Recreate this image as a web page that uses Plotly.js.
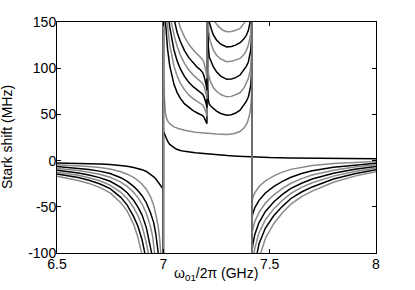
<!DOCTYPE html>
<html>
<head>
<meta charset="utf-8">
<script src="https://cdn.plot.ly/plotly-3.0.1.min.js"></script>
<style>html,body{margin:0;padding:0;background:#fff;}#chart{width:415px;height:290px;}</style>
</head>
<body>
<div id="chart"></div>
<script>
// ---- data (MHz vs GHz) ----
const OFF = 1000;                       // off-scale value used where a curve diverges
const jumpX = [7.0, 7.205, 7.417];      // resonance positions (GHz)
const xTicks = [6.5, 7, 7.5, 8];
const xTickText = ['6.5', '7', '7.5', '8'];
const yTicks = [-100, -50, 0, 50, 100, 150];
const yTickText = ['-100', '-50', '0', '50', '100', '150'];
const colors = ['#000000', '#8a8a8a'];

// curve 0 (continuous, black)
const c0_x = [6.5,6.55,6.6,6.65,6.7,6.75,6.8,6.83,6.86,6.88,6.9,6.92,6.94,6.955,6.965,6.975,6.985,6.993,7.0,7.0,7.005,7.01,7.02,7.03,7.045,7.06,7.08,7.1,7.15,7.2,7.25,7.3,7.35,7.417,7.5,7.6,7.7,7.8,7.9,8.0];
const c0_y = [-2.5,-2.7,-3.0,-3.3,-3.8,-4.3,-5.3,-6.2,-7.4,-8.5,-9.8,-11.8,-14.6,-17.5,-20,-23.5,-27,-29.5,-31,32,29,26,21,17.5,14.5,12.5,11,10,8.5,7.2,6.2,5.4,4.7,3.8,3.3,2.9,2.6,2.4,2.2,2.0];

// shared x grids
const xB = [7.0,7.005,7.01,7.015,7.02,7.03,7.04,7.05,7.065,7.08,7.1,7.12,7.14,7.16,7.175,7.185,7.192,7.198,7.202,7.205];
const xD = [7.417,7.42,7.43,7.45,7.48,7.52,7.56,7.6,7.65,7.7,7.8,7.9,8.0];

// curve 1 (gray): no jump at 7.205
const c1_xA = [6.5,6.55,6.6,6.65,6.7,6.75,6.8,6.83,6.86,6.88,6.9,6.92,6.94,6.955,6.965,6.975,6.982,6.988,6.994];
const c1_yA = [-4.5,-5.0,-5.6,-6.5,-7.6,-9.2,-12.1,-14.7,-18.2,-21.3,-25.5,-31,-39.2,-48.9,-58.6,-70,-83,-100,-150];
const c1_xBC = [7.0,7.002,7.004,7.007,7.01,7.015,7.02,7.03,7.05,7.07,7.1,7.15,7.2,7.25,7.3,7.33,7.36,7.38,7.395,7.405,7.41,7.414,7.416];
const c1_yBC = [130,90,70,57,51,46,43,40,36.5,34.8,32.8,30.8,29.6,28.8,28.3,29,31.5,35.5,41,49,56,67,85];
const c1_yD = [-44,-41,-35,-28,-22,-16.5,-12.5,-9.5,-7,-5.2,-3.2,-2,-1];

// curve 2 (black)
const c2_xA = [6.5,6.55,6.6,6.65,6.7,6.75,6.8,6.83,6.86,6.88,6.9,6.92,6.94,6.955,6.965,6.976,6.985];
const c2_yA = [-6.5,-7.3,-8.3,-9.6,-11.4,-14,-18.5,-22.4,-27.9,-32.3,-38,-45.6,-56.7,-67.4,-80,-100,-140];
const c2_yB = [209,173.8,150.1,133.2,120.6,102.8,91,82.5,73.6,67.3,61.4,57.2,54,51.5,50,48.6,46.5,44,42,40];
const c2_xC = [7.207,7.209,7.211,7.216,7.225,7.235,7.25,7.27,7.298,7.32,7.34,7.361,7.38,7.39,7.4,7.408,7.411,7.414,7.416];
const c2_yC = [110,80,66,61,58.5,56.5,53.5,51,49.2,49.6,51.5,54.6,60,64,69,77,81,92,110];
const c2_yD = [-62,-58,-51,-43,-35,-28,-22.5,-18,-14,-11,-7.2,-4.6,-2.8];

// curve 3 (gray)
const c3_xA = [6.5,6.55,6.6,6.65,6.7,6.75,6.8,6.83,6.86,6.88,6.9,6.92,6.94,6.95,6.961,6.97,6.98];
const c3_yA = [-8.5,-9.5,-10.8,-12.5,-14.8,-18,-23.3,-27.9,-34.3,-39.8,-47,-56.9,-71.7,-82.4,-100,-123,-175];
const c3_yB = [230.7,198.6,175.6,158.4,145,125.5,112.1,102.2,91.5,83.8,76.5,71.1,67.1,64,62,60.2,57.6,54.5,51,48];
const c3_xC = [7.208,7.212,7.219,7.235,7.25,7.27,7.298,7.32,7.34,7.361,7.38,7.39,7.4,7.408,7.411,7.414,7.416];
const c3_yC = [120,95,87,79,75,71.5,69,69.5,71,73.4,79,83.5,89,97,101.6,112,130];
const c3_yD = [-80,-75,-66,-56,-46,-37,-30,-24.5,-19.5,-15.5,-10.5,-7,-4.5];

// curve 4 (black)
const c4_xA = [6.5,6.55,6.6,6.65,6.7,6.75,6.8,6.83,6.86,6.88,6.9,6.92,6.935,6.945,6.955,6.965];
const c4_yA = [-10.5,-11.8,-13.4,-15.6,-18.4,-22.4,-29,-34.8,-42.9,-50,-59,-72.5,-87,-100,-120,-151];
const c4_yB = [244.7,216.1,194.7,178,164.7,144.7,130.4,119.7,107.9,99.2,90.9,84.7,80,76.3,74,71.8,68.7,65,61.1,57.3];
const c4_xC = [7.208,7.212,7.216,7.235,7.25,7.27,7.298,7.32,7.34,7.361,7.38,7.39,7.4,7.408,7.411,7.414,7.416];
const c4_yC = [150,122,112,101.6,96,91.5,88,88.3,89.8,92.6,98,102,107,115,119.7,130,150];
const c4_yD = [-98,-92,-80,-67,-55,-44.5,-36.5,-30,-24.5,-20,-13.8,-9.4,-6.3];

// curve 5 (gray)
const c5_xA = [6.5,6.55,6.6,6.65,6.7,6.75,6.8,6.83,6.86,6.88,6.9,6.92,6.93,6.95];
const c5_yA = [-12.5,-14,-15.95,-18.5,-21.8,-26.5,-34.3,-41.1,-50.7,-59.2,-71,-88.8,-101,-142];
const c5_yB = [256.5,230.9,211,195.1,182.1,162.1,147.4,136.1,123.5,114.2,104.9,98.1,92.8,88.6,86,83.5,79.9,75.6,71.1,66.7];
const c5_xC = [7.209,7.214,7.219,7.235,7.25,7.27,7.298,7.32,7.34,7.361,7.38,7.39,7.4,7.408,7.411,7.414,7.416];
const c5_yC = [160,140,130.5,119.7,114,110,107,107.4,108.7,110.6,115,119,125,134,137.7,150,170];
const c5_yD = [-125,-112,-95,-78,-64,-52,-43,-35.5,-29,-24,-16.8,-11.8,-8];

// curve 6 (black)
const c6_xA = [6.5,6.55,6.6,6.65,6.7,6.75,6.8,6.83,6.86,6.88,6.9,6.92,6.94];
const c6_yA = [-14.5,-16.2,-18.4,-21.3,-25.1,-30.4,-39.8,-48.2,-60.4,-70.8,-85.7,-108,-145];
const c6_yB = [268.1,244.9,226.3,211.1,198.4,178.5,163.6,152,138.7,128.8,118.8,111.4,105.5,100.9,98,95.3,91.1,86.2,81.1,76.2];
const c6_xC = [7.211,7.216,7.225,7.235,7.25,7.27,7.298,7.32,7.34,7.361,7.38,7.39,7.4,7.408,7.414];
const c6_yC = [165,150,143,136,130.5,126,123,123.5,125,127.6,132,135.5,141,150,165];
const c6_yD = [-160,-140,-113,-90,-73,-59.5,-49.5,-41,-34,-28.5,-20,-14.3,-10];

// curve 7 (gray)
const c7_xA = [6.5,6.55,6.6,6.65,6.7,6.75,6.8,6.83,6.86,6.88,6.9,6.92];
const c7_yA = [-17,-19,-21.5,-24.7,-29,-35,-45.5,-54.7,-68.6,-82.5,-102,-131];
const c7_yB = [273.9,253.6,236.9,223.1,211.3,192.5,178.2,166.8,153.7,143.7,133.6,125.9,119.9,115.1,112,109.1,105.3,99.8,94.2,88.8];
const c7_xC = [7.22,7.235,7.243,7.26,7.28,7.298,7.32,7.34,7.361,7.384,7.4];
const c7_yC = [175,160,150,145,141,139.5,139.8,141,143,150,160];
const c7_yD = [-200,-175,-140,-106,-84,-68,-56.5,-47,-39,-33,-23.5,-16.8,-12];

// ---- assemble traces ----
function build(xA, yA, yB, xC, yC, yD) {
  const x = [...xA, jumpX[0], jumpX[0], ...xB, jumpX[1], ...xC, jumpX[2], ...xD];
  const y = [...yA, -OFF, OFF, ...yB, OFF, ...yC, OFF, ...yD];
  return {x, y};
}
const curves = [];
curves.push({x: c0_x, y: c0_y});
curves.push({
  x: [...c1_xA, jumpX[0], jumpX[0], ...c1_xBC, jumpX[2], ...xD],
  y: [...c1_yA, -OFF, OFF, ...c1_yBC, OFF, ...c1_yD]
});
curves.push(build(c2_xA, c2_yA, c2_yB, c2_xC, c2_yC, c2_yD));
curves.push(build(c3_xA, c3_yA, c3_yB, c3_xC, c3_yC, c3_yD));
curves.push(build(c4_xA, c4_yA, c4_yB, c4_xC, c4_yC, c4_yD));
curves.push(build(c5_xA, c5_yA, c5_yB, c5_xC, c5_yC, c5_yD));
curves.push(build(c6_xA, c6_yA, c6_yB, c6_xC, c6_yC, c6_yD));
curves.push(build(c7_xA, c7_yA, c7_yB, c7_xC, c7_yC, c7_yD));

const traces = curves.map((c, i) => ({
  type: 'scatter', mode: 'lines', x: c.x, y: c.y,
  line: {color: colors[i % 2], width: 1.5, shape: 'linear'},
  hoverinfo: 'skip'
}));

const axisCommon = {
  ticks: 'inside', ticklen: 4, tickwidth: 1, tickcolor: '#000',
  showline: true, linecolor: '#000', linewidth: 1, mirror: 'ticks',
  showgrid: false, zeroline: false,
  tickfont: {family: 'Liberation Sans, Arial, sans-serif', size: 14, color: '#000'}
};

const layout = {
  width: 415, height: 290,
  margin: {l: 57, r: 39, t: 22, b: 37, pad: 0},
  paper_bgcolor: '#fff', plot_bgcolor: '#fff',
  showlegend: false,
  font: {family: 'Liberation Sans, Arial, sans-serif', size: 14, color: '#000'},
  xaxis: Object.assign({}, axisCommon, {range: [6.5, 8], tickvals: xTicks, ticktext: xTickText, ticklabelstandoff: -2}),
  yaxis: Object.assign({}, axisCommon, {range: [-100, 150], tickvals: yTicks, ticktext: yTickText, ticklabelstandoff: -3}),
  annotations: [
    {text: 'Stark shift (MHz)', textangle: -90, xref: 'paper', yref: 'paper',
     x: -0.158, y: 0.5, xanchor: 'center', yanchor: 'middle', showarrow: false,
     font: {size: 14, color: '#000'}},
    {text: 'ω<sub>01</sub>/2π (GHz)', xref: 'paper', yref: 'paper',
     x: 0.498, y: -0.09, xanchor: 'center', yanchor: 'middle', showarrow: false,
     font: {size: 14, color: '#000'}}
  ]
};

Plotly.newPlot('chart', traces, layout, {displayModeBar: false, staticPlot: true});
</script>
</body>
</html>
